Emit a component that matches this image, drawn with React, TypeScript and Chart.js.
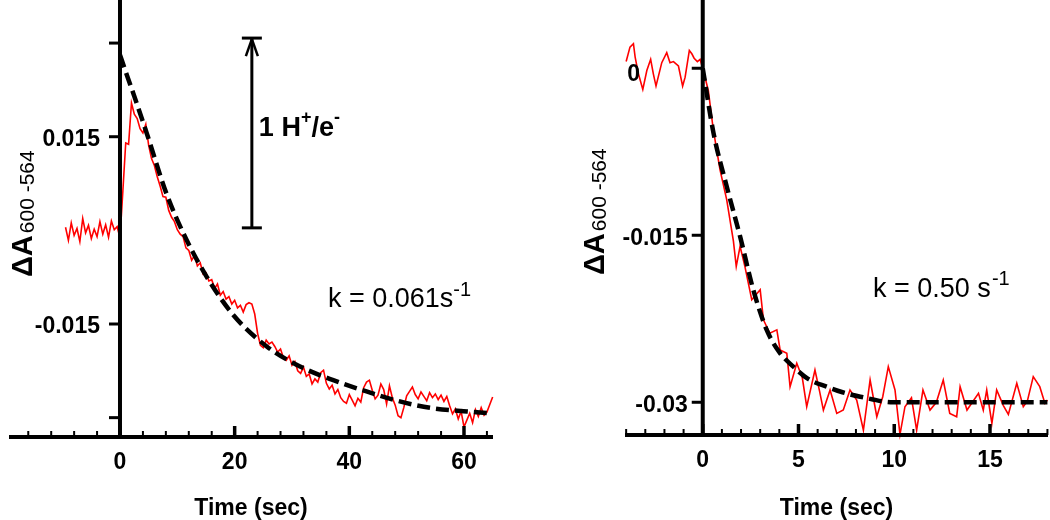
import React, { useEffect, useRef } from "react";
import { Chart, registerables } from "chart.js";

Chart.register(...registerables);

// ---------------- Left panel data (k = 0.061 s^-1) ----------------
const LEFT_TIME = [
  -9.5, -9, -8.5, -8, -7.5, -7, -6.5, -6, -5.5, -5, -4.5, -4, -3.5, -3, -2.5, -2, -1.5, -1, -0.5, 0,
  0.5, 1, 1.5, 2, 2.5, 3, 3.5, 4, 4.5, 5, 5.5, 6, 6.5, 7, 7.5, 8, 8.5, 9, 9.5, 10,
  10.5, 11, 11.5, 12, 12.5, 13, 13.5, 14, 14.5, 15, 15.5, 16, 16.5, 17, 17.5, 18, 18.5, 19, 19.5, 20,
  20.5, 21, 21.5, 22, 22.5, 23, 23.5, 24, 24.5, 25, 25.5, 26, 26.5, 27, 27.5, 28, 28.5, 29, 29.5, 30,
  30.5, 31, 31.5, 32, 32.5, 33, 33.5, 34, 34.5, 35, 35.5, 36, 36.5, 37, 37.5, 38, 38.5, 39, 39.5, 40,
  40.5, 41, 41.5, 42, 42.5, 43, 43.5, 44, 44.5, 45, 45.5, 46, 46.5, 47, 47.5, 48, 48.5, 49, 49.5, 50,
  50.5, 51, 51.5, 52, 52.5, 53, 53.5, 54, 54.5, 55, 55.5, 56, 56.5, 57, 57.5, 58, 58.5, 59, 59.5, 60,
  60.5, 61, 61.5, 62, 62.5, 63, 63.5, 64, 64.5, 65,
];
const LEFT_SIGNAL = [
  0.0005, -0.0016, 0.0012, -0.0008, 0.0003, -0.0018, 0.0019, -0.0004, 0.0008, -0.0013,
  0.0002, -0.001, 0.0014, -0.0006, 0.0009, -0.0011, 0.0015, 0.0001, 0.0006, -0.0012,
  0.0063, 0.014, 0.0138, 0.0204, 0.0186, 0.0179, 0.0163, 0.0156, 0.017, 0.0136,
  0.0115, 0.0104, 0.0086, 0.0071, 0.0054, 0.0053, 0.0032, 0.0021, 0.0014, 0.0001,
  -0.0006, -0.001, -0.0028, -0.0032, -0.0048, -0.004, -0.0057, -0.0052, -0.007, -0.0068,
  -0.0081, -0.0079, -0.0093, -0.0086, -0.0104, -0.0098, -0.011, -0.0106, -0.0118, -0.0112,
  -0.0124, -0.012, -0.0131, -0.0119, -0.0116, -0.0118, -0.0134, -0.0165, -0.0184, -0.0188,
  -0.0176, -0.0182, -0.0179, -0.0186, -0.0195, -0.019, -0.0204, -0.0208, -0.0201, -0.0216,
  -0.021, -0.0225, -0.0229, -0.0219, -0.0234, -0.023, -0.0246, -0.0238, -0.0243, -0.0228,
  -0.0224, -0.0245, -0.0254, -0.0248, -0.0262, -0.0255, -0.0268, -0.0274, -0.0277, -0.0263,
  -0.0272, -0.0281, -0.0269, -0.0275, -0.0252, -0.0243, -0.024, -0.0256, -0.027, -0.0264,
  -0.0246, -0.0255, -0.0278, -0.0249, -0.0268, -0.028, -0.0297, -0.03, -0.0284, -0.0265,
  -0.0258, -0.0251, -0.0263, -0.027, -0.0259, -0.0266, -0.0273, -0.026, -0.0268, -0.0262,
  -0.0271, -0.0264, -0.0274, -0.0266, -0.0281, -0.0294, -0.0286, -0.0302, -0.029, -0.0315,
  -0.0304, -0.0293, -0.0308, -0.0287, -0.0298, -0.0284, -0.0296, -0.0291, -0.0279, -0.0267,
];
const LEFT_FIT_TIME = [0, 1, 2.3, 4.65, 8.1, 11.6, 15.1, 19.8, 25.6, 31.4, 37.2, 43, 48.8, 54.6, 60.5, 64.8];
const LEFT_FIT = [
  0.0281, 0.0254, 0.022, 0.0156, 0.0059, -0.0015, -0.0074, -0.0136, -0.0186, -0.0218,
  -0.024, -0.0258, -0.0274, -0.0285, -0.029, -0.0293,
];
const LEFT_X_MAJOR = [0, 20, 40, 60];
const LEFT_X_MINOR = [-16, -12, -8, -4, 4, 8, 12, 16, 24, 28, 32, 36, 44, 48, 52, 56, 64];
const LEFT_Y_TICKS = [0.03, 0.015, -0.015, -0.03];
const LEFT_Y_LABELS = ["", "0.015", "-0.015", ""];

// ---------------- Right panel data (k = 0.50 s^-1) ----------------
const RIGHT_TIME = [
  -4.0, -3.8, -3.62, -3.53, -3.36, -3.13, -2.92, -2.72, -2.58, -2.44, -2.14, -1.88, -1.71, -1.53,
  -1.27, -1.05, -0.92, -0.7, -0.57, -0.45, -0.28, -0.14, 0.03,
  0.29, 0.55, 0.9, 1.25, 1.6, 1.75, 1.95, 2.2, 2.56, 3.0, 3.17, 3.5, 3.87, 4.04, 4.39, 4.56, 4.91,
  5.2, 5.43, 5.86, 6.1, 6.3, 6.65, 7.0, 7.34, 7.69, 8.04, 8.39, 8.74, 9.09, 9.4, 9.69, 10.04,
  10.3, 10.56, 10.9, 11.17, 11.5, 11.87, 12.2, 12.56, 12.9, 13.26, 13.44, 13.8, 14.4, 14.65,
  14.83, 15.1, 15.35, 15.7, 15.96, 16.4, 16.74, 16.95, 17.26, 17.6, 17.87, 18.0,
];
const RIGHT_SIGNAL = [
  0.0006, 0.0019, 0.0022, 0.001, -0.0005, -0.0019, -0.0002, 0.0008, -0.0005, -0.0016, 0.0005,
  0.0014, 0.0005, 0.0006, 0.0002, -0.0016, -0.0008, 0.0016, 0.0013, 0.0009, 0.0006, 0.0008, -0.0002,
  -0.002, -0.0055, -0.0091, -0.0118, -0.0155, -0.0178, -0.016, -0.0178, -0.0208, -0.0199, -0.0226,
  -0.0238, -0.0235, -0.0253, -0.0256, -0.0286, -0.0265,
  -0.0278, -0.0304, -0.0271, -0.029, -0.0307, -0.0289, -0.031, -0.0307, -0.0289, -0.0298, -0.0325,
  -0.028, -0.0313, -0.0295, -0.0268, -0.0289,
  -0.0329, -0.0304, -0.0296, -0.0325, -0.0289, -0.0307, -0.03, -0.028, -0.031, -0.0313, -0.0286,
  -0.0307, -0.0292, -0.0307,
  -0.0289, -0.0319, -0.0289, -0.0303, -0.0311, -0.0283, -0.0304, -0.0299, -0.0277, -0.0286, -0.0301, -0.0298,
];
const RIGHT_FIT_TIME = [0, 0.56, 1.25, 1.95, 2.64, 3.34, 4.0, 4.73, 5.5, 6.47, 7.3, 8.23, 9.94, 12, 14, 16, 18];
const RIGHT_FIT = [
  0, -0.0058, -0.0106, -0.0151, -0.0199, -0.0235, -0.0255, -0.0268, -0.0279, -0.0286, -0.0291,
  -0.0295, -0.03, -0.03, -0.03, -0.03, -0.03,
];
const RIGHT_X_MAJOR = [0, 5, 10, 15];
const RIGHT_X_MINOR = [-4, -3, -2, -1, 1, 2, 3, 4, 6, 7, 8, 9, 11, 12, 13, 14, 16, 17, 18];
const RIGHT_Y_TICKS = [0, -0.015, -0.03];
const RIGHT_Y_LABELS = ["0", "-0.015", "-0.03"];

// ---------------- Texts ----------------
const X_TITLE = "Time (sec)";
const Y_TITLE_MAIN = "ΔA";
const Y_TITLE_SUB = "600 -564";
const LEFT_RATE = ["k = 0.061s", "-1"];
const RIGHT_RATE = ["k = 0.50 s", "-1"];
const SCALE_BAR = ["1 H", "+", "/e", "-"];
const SCALE_BAR_TIME = 23;
const SCALE_BAR_TOP = 0.0308;
const SCALE_BAR_BOTTOM = 0.0004;

const FONT = '"Liberation Sans", Arial, Helvetica, sans-serif';

type Run = { text: string; font: string; dy: number };

function drawRuns(ctx: CanvasRenderingContext2D, x: number, y: number, runs: Run[]) {
  let cx = x;
  for (const r of runs) {
    ctx.font = r.font;
    ctx.fillText(r.text, cx, y + r.dy);
    cx += ctx.measureText(r.text).width;
  }
}

function line(ctx: CanvasRenderingContext2D, x1: number, y1: number, x2: number, y2: number) {
  ctx.beginPath();
  ctx.moveTo(x1, y1);
  ctx.lineTo(x2, y2);
  ctx.stroke();
}

type PanelCfg = {
  time: number[];
  signal: number[];
  fitTime: number[];
  fit: number[];
  xMin: number;
  xMax: number;
  yMin: number;
  yMax: number;
  padding: { left: number; right: number; top: number; bottom: number };
  xMajor: number[];
  xMinor: number[];
  yTicks: number[];
  yLabels: string[];
  yLabelGap: number;
  yTitleX: number;
  yTitleY: number;
  extra: (chart: any) => void;
};

function makeChart(canvas: HTMLCanvasElement, p: PanelCfg) {
  const axesPlugin = {
    id: "customAxes",
    afterDraw(chart: any) {
      const ctx: CanvasRenderingContext2D = chart.ctx;
      const a = chart.chartArea;
      const xs = chart.scales.x;
      const ys = chart.scales.y;
      const x0 = xs.getPixelForValue(0);
      const yb = a.bottom;
      ctx.save();
      ctx.strokeStyle = "#000";
      ctx.fillStyle = "#000";
      ctx.lineCap = "butt";
      // axis lines
      ctx.lineWidth = 4;
      line(ctx, a.left, yb, a.right, yb);
      line(ctx, x0, a.top, x0, yb + 2);
      // x ticks
      ctx.lineWidth = 3.5;
      for (const t of p.xMajor) {
        const px = xs.getPixelForValue(t);
        line(ctx, px, yb, px, yb - 11);
      }
      ctx.lineWidth = 2;
      for (const t of p.xMinor) {
        const px = xs.getPixelForValue(t);
        line(ctx, px, yb, px, yb - 6);
      }
      // y ticks
      ctx.lineWidth = 3;
      for (const v of p.yTicks) {
        const py = ys.getPixelForValue(v);
        line(ctx, x0 - 11, py, x0, py);
      }
      // x labels
      ctx.font = `bold 23px ${FONT}`;
      ctx.textAlign = "center";
      ctx.textBaseline = "middle";
      for (const t of p.xMajor) {
        ctx.fillText(String(t), xs.getPixelForValue(t), yb + 26);
      }
      // y labels
      p.yTicks.forEach((v, i) => {
        const lab = p.yLabels[i];
        if (!lab) return;
        let lx = x0 - p.yLabelGap;
        if (lab === "0") {
          ctx.textAlign = "center";
          lx = x0 - 69;
        } else {
          ctx.textAlign = "right";
        }
        ctx.fillText(lab, lx, ys.getPixelForValue(v) + (lab === "0" ? 6 : 3));
      });
      // x title
      ctx.textAlign = "center";
      ctx.textBaseline = "alphabetic";
      ctx.font = `bold 23px ${FONT}`;
      ctx.fillText(X_TITLE, (a.left + a.right) / 2, 515);
      // y title (rotated)
      ctx.save();
      ctx.translate(p.yTitleX, p.yTitleY);
      ctx.rotate(-Math.PI / 2);
      ctx.textAlign = "left";
      ctx.textBaseline = "alphabetic";
      ctx.font = `bold 29px ${FONT}`;
      ctx.fillText(Y_TITLE_MAIN, 0, 0);
      const w = ctx.measureText(Y_TITLE_MAIN).width;
      ctx.font = `21px ${FONT}`;
      ctx.fillText(Y_TITLE_SUB, w + 2, 2);
      ctx.restore();
      p.extra(chart);
      ctx.restore();
    },
  };

  return new Chart(canvas, {
    type: "line",
    data: {
      datasets: [
        {
          data: p.fitTime.map((t, i) => ({ x: t, y: p.fit[i] })),
          borderColor: "#000",
          borderWidth: 4.5,
          borderDash: [13, 6],
          pointRadius: 0,
          cubicInterpolationMode: "monotone",
          fill: false,
          order: 0,
        },
        {
          data: p.time.map((t, i) => ({ x: t, y: p.signal[i] })),
          borderColor: "#ff0000",
          borderWidth: 1.6,
          pointRadius: 0,
          tension: 0,
          fill: false,
          order: 1,
          clip: false,
        },
      ],
    },
    options: {
      responsive: false,
      animation: false,
      layout: { padding: p.padding },
      scales: {
        x: { type: "linear", min: p.xMin, max: p.xMax, display: false },
        y: { type: "linear", min: p.yMin, max: p.yMax, display: false },
      },
      plugins: { legend: { display: false }, tooltip: { enabled: false } },
      events: [],
    },
    plugins: [axesPlugin],
  } as any);
}

export default function App() {
  const leftRef = useRef<HTMLCanvasElement>(null);
  const rightRef = useRef<HTMLCanvasElement>(null);

  useEffect(() => {
    const left = makeChart(leftRef.current!, {
      time: LEFT_TIME,
      signal: LEFT_SIGNAL,
      fitTime: LEFT_FIT_TIME,
      fit: LEFT_FIT,
      xMin: -19.36,
      xMax: 65.06,
      yMin: -0.0331,
      yMax: 0.0369,
      padding: { left: 9, right: 557, top: 0, bottom: 83 },
      xMajor: LEFT_X_MAJOR,
      xMinor: LEFT_X_MINOR,
      yTicks: LEFT_Y_TICKS,
      yLabels: LEFT_Y_LABELS,
      yLabelGap: 20,
      yTitleX: 32,
      yTitleY: 277,
      extra: (chart: any) => {
        const ctx: CanvasRenderingContext2D = chart.ctx;
        const xs = chart.scales.x;
        const ys = chart.scales.y;
        const ax = xs.getPixelForValue(SCALE_BAR_TIME);
        const top = ys.getPixelForValue(SCALE_BAR_TOP);
        const bot = ys.getPixelForValue(SCALE_BAR_BOTTOM);
        ctx.lineWidth = 3;
        line(ctx, ax, top, ax, bot);
        line(ctx, ax - 10, top, ax + 10, top);
        line(ctx, ax - 10, bot, ax + 10, bot);
        ctx.lineWidth = 2.5;
        line(ctx, ax, top + 1, ax - 6, top + 18);
        line(ctx, ax, top + 1, ax + 6, top + 18);
        ctx.textAlign = "left";
        ctx.textBaseline = "alphabetic";
        drawRuns(ctx, ax + 7, 136, [
          { text: SCALE_BAR[0], font: `bold 27px ${FONT}`, dy: 0 },
          { text: SCALE_BAR[1], font: `bold 18px ${FONT}`, dy: -13 },
          { text: SCALE_BAR[2], font: `bold 27px ${FONT}`, dy: 0 },
          { text: SCALE_BAR[3], font: `bold 18px ${FONT}`, dy: -13 },
        ]);
        drawRuns(ctx, 328, 307, [
          { text: LEFT_RATE[0], font: `27px ${FONT}`, dy: 0 },
          { text: LEFT_RATE[1], font: `20px ${FONT}`, dy: -11 },
        ]);
      },
    });
    const right = makeChart(rightRef.current!, {
      time: RIGHT_TIME,
      signal: RIGHT_SIGNAL,
      fitTime: RIGHT_FIT_TIME,
      fit: RIGHT_FIT,
      xMin: -4.06,
      xMax: 18.03,
      yMin: -0.03294,
      yMax: 0.00613,
      padding: { left: 625, right: 2, top: 0, bottom: 85 },
      xMajor: RIGHT_X_MAJOR,
      xMinor: RIGHT_X_MINOR,
      yTicks: RIGHT_Y_TICKS,
      yLabels: RIGHT_Y_LABELS,
      yLabelGap: 15,
      yTitleX: 604,
      yTitleY: 275,
      extra: (chart: any) => {
        const ctx: CanvasRenderingContext2D = chart.ctx;
        ctx.textAlign = "left";
        ctx.textBaseline = "alphabetic";
        drawRuns(ctx, 873, 297, [
          { text: RIGHT_RATE[0], font: `27px ${FONT}`, dy: 0 },
          { text: " ", font: `4px ${FONT}`, dy: 0 },
          { text: RIGHT_RATE[1], font: `20px ${FONT}`, dy: -12 },
        ]);
      },
    });
    return () => {
      left.destroy();
      right.destroy();
    };
  }, []);

  return (
    <div style={{ position: "absolute", left: 0, top: 0, width: 1050, height: 520, background: "#fff" }}>
      <canvas ref={leftRef} width={1050} height={520} style={{ position: "absolute", left: 0, top: 0 }} />
      <canvas ref={rightRef} width={1050} height={520} style={{ position: "absolute", left: 0, top: 0 }} />
    </div>
  );
}
